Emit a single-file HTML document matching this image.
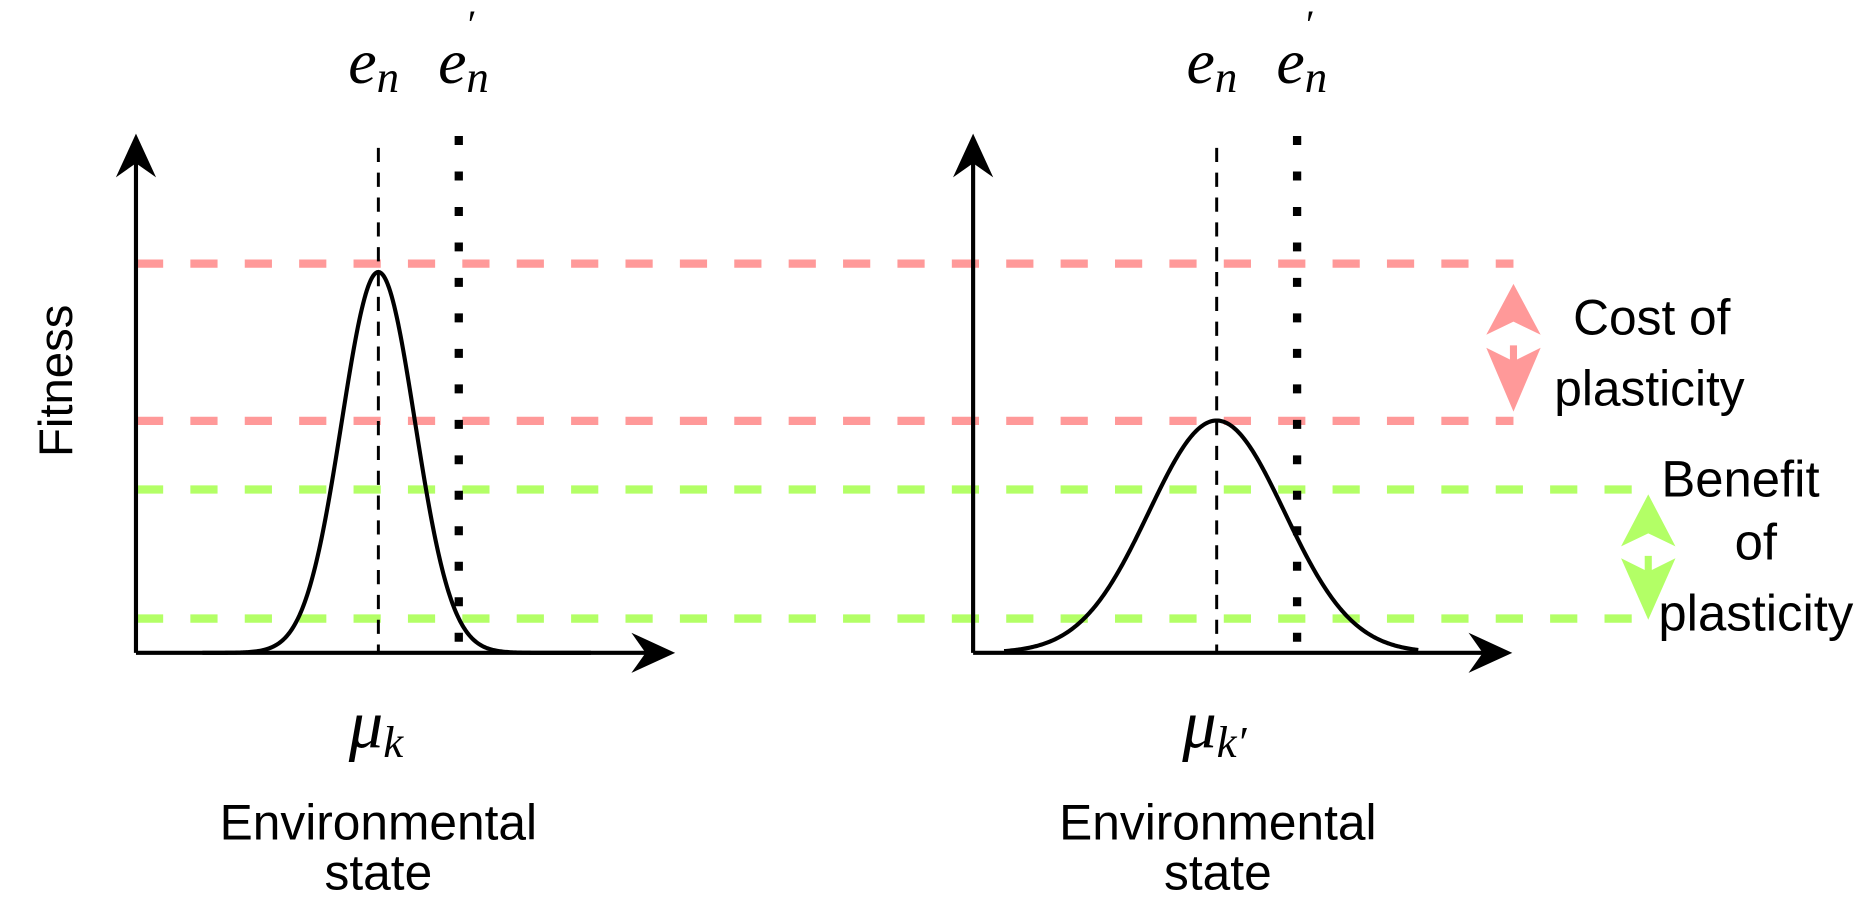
<!DOCTYPE html>
<html><head><meta charset="utf-8"><style>
html,body{margin:0;padding:0;background:#fff;}
svg{display:block;}
text{font-family:"Liberation Sans",sans-serif;fill:#000;}
.m{font-family:"Liberation Serif",serif;font-style:italic;}
</style></head><body>
<svg id="chart" width="1854" height="900" viewBox="0 0 1568 761" preserveAspectRatio="none" xmlns="http://www.w3.org/2000/svg">
<g id="refs"></g>
<g id="axes"></g>
<g id="curves"></g>
<g id="labels">
<text x="0" y="0" font-size="40" text-anchor="middle" transform="translate(61,322) rotate(-90)">Fitness</text>
<text class="m" x="316" y="70" font-size="54" text-anchor="middle">e<tspan font-size="38" dy="8">n</tspan></text>
<text class="m" x="392" y="70" font-size="54" text-anchor="middle">e<tspan font-size="38" dy="8">n</tspan><tspan font-size="34" dx="-20" dy="-46">′</tspan></text>
<text class="m" x="1025" y="70" font-size="54" text-anchor="middle">e<tspan font-size="38" dy="8">n</tspan></text>
<text class="m" x="1101" y="70" font-size="54" text-anchor="middle">e<tspan font-size="38" dy="8">n</tspan><tspan font-size="34" dx="-20" dy="-46">′</tspan></text>
<text class="m" x="318" y="632" font-size="58" text-anchor="middle">μ<tspan font-size="38" dy="8">k</tspan></text>
<text class="m" x="1027" y="632" font-size="58" text-anchor="middle">μ<tspan font-size="38" dy="8">k′</tspan></text>
<text x="320" y="710" font-size="42" text-anchor="middle">Environmental</text>
<text x="320" y="752" font-size="42" text-anchor="middle">state</text>
<text x="1030" y="710" font-size="42" text-anchor="middle">Environmental</text>
<text x="1030" y="752" font-size="42" text-anchor="middle">state</text>
<text x="1397" y="283" font-size="42" text-anchor="middle">Cost of</text>
<text x="1395" y="343" font-size="42" text-anchor="middle">plasticity</text>
<text x="1472" y="420" font-size="43" text-anchor="middle">Benefit</text>
<text x="1485" y="473" font-size="43" text-anchor="middle">of</text>
<text x="1485" y="533" font-size="43" text-anchor="middle">plasticity</text>
</g>
<g id="arrows">
<polygon fill="#ff9999" points="1280,240 1257,283 1280,272 1303,283"/>
<polygon fill="#ff9999" points="1277,292 1283,292 1283,304 1303,294 1280,348 1257,294 1277,304"/>
<polygon fill="#b3ff66" points="1394,418 1371,462 1394,451 1417,462"/>
<polygon fill="#b3ff66" points="1391,470 1397,470 1397,482 1417,472 1394,524 1371,472 1391,482"/>
</g>
</svg>
<script>
// data
const panelNames = ["left", "right"];
const optima = [0, 0];
const widths = [1.0, 1.85];
const peaks = [1.0, 0.61];
const shiftedEnv = [1.0, 1.0];
const costLevels = [1.022, 0.609];
const benefitLevels = [0.429, 0.09];
const curveRange = [[-4.8, 5.8], [-5.8, 5.5]];

const NS = "http://www.w3.org/2000/svg";
const originX = [115, 823], baseY = 552, muX = [320, 1029];
const unitX = 31, unitY = 322;
function xS(p, v){ return muX[p] + (v - optima[p]) * unitX; }
function yS(f){ return baseY - f * unitY; }
function mk(tag, attrs, parent){ const e = document.createElementNS(NS, tag); for (const k in attrs) e.setAttribute(k, attrs[k]); parent.appendChild(e); return e; }

const refs = document.getElementById('refs');
costLevels.forEach((c) => {
  const l = mk('line', {x1:115, x2:1280, y1:yS(c), y2:yS(c), stroke:'#ff9999', 'stroke-width':7, 'stroke-dasharray':'23 23'}, refs);
  
  
});
benefitLevels.forEach((b) => {
  const l = mk('line', {x1:115, x2:1395, y1:yS(b), y2:yS(b), stroke:'#b3ff66', 'stroke-width':7, 'stroke-dasharray':'23 23'}, refs);
  
  
});

const axes = document.getElementById('axes');
panelNames.forEach((n, p) => {
  const ox = originX[p];
  const a = mk('line', {x1:ox, y1:baseY, x2:ox, y2:130, stroke:'#000', 'stroke-width':3.5}, axes);
  
  
  const ah = mk('polygon', {points:`${ox},113 ${ox-17},150 ${ox},138 ${ox+17},150`, fill:'#000'}, axes);
  
  
  const xa = mk('line', {x1:ox, y1:baseY, x2:ox+440, y2:baseY, stroke:'#000', 'stroke-width':3.5}, axes);
  
  
  const xe = ox + 456;
  const xh = mk('polygon', {points:`${xe},${baseY} ${xe-37},${baseY-17} ${xe-25},${baseY} ${xe-37},${baseY+17}`, fill:'#000'}, axes);
  
  
  const en = mk('line', {x1:xS(p, optima[p]), x2:xS(p, optima[p]), y1:125, y2:baseY, stroke:'#000', 'stroke-width':2.5, 'stroke-dasharray':'12 9'}, axes);
  
  
  const ex = muX[p] + shiftedEnv[p] * 68;
  const ep = mk('line', {x1:ex, x2:ex, y1:115, y2:baseY, stroke:'#000', 'stroke-width':7, 'stroke-dasharray':'7.6 22.4'}, axes);
  
  
});

const curves = document.getElementById('curves');
panelNames.forEach((n, p) => {
  let d = '';
  const [a, b] = curveRange[p];
  for (let i = 0; i <= 300; i++) {
    const v = a + (b - a) * i / 300;
    const f = peaks[p] * Math.exp(-0.5 * Math.pow((v - optima[p]) / widths[p], 2));
    d += (i ? 'L' : 'M') + xS(p, v).toFixed(2) + ',' + yS(f).toFixed(2);
  }
  const c = mk('path', {d, fill:'none', stroke:'#000', 'stroke-width':3.5}, curves);
  
  
});
</script>
</body></html>
